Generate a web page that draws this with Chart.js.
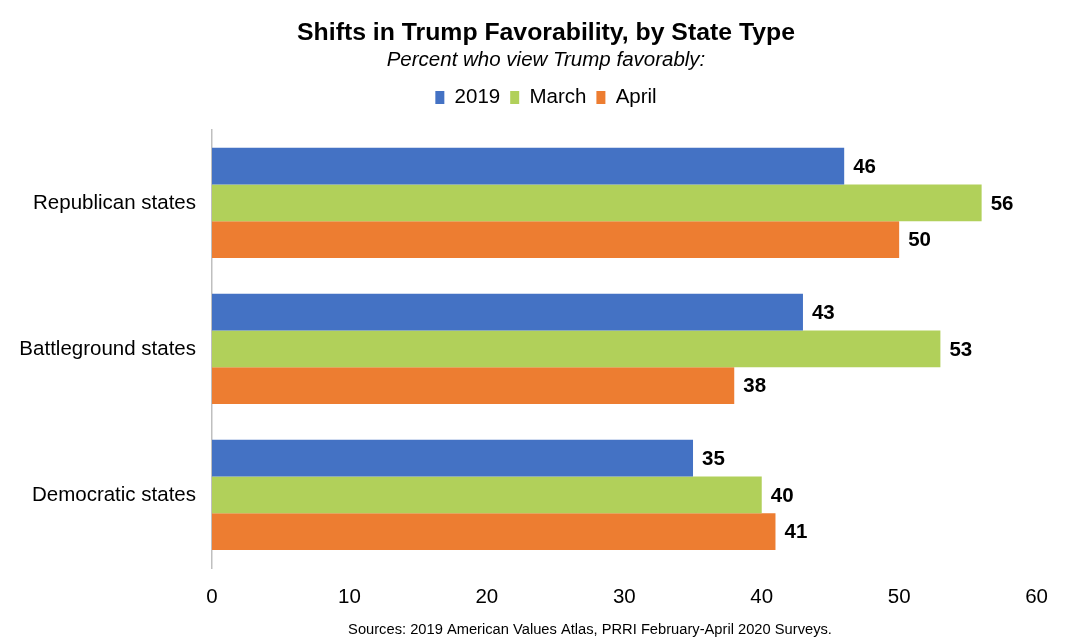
<!DOCTYPE html>
<html>
<head>
<meta charset="utf-8">
<script src="https://cdn.jsdelivr.net/npm/chart.js@4"></script>
<style>
  html, body { margin: 0; padding: 0; background: #fff; }
  #wrap { width: 1065px; height: 640px; position: relative; }
</style>
</head>
<body>
<div id="wrap"><canvas id="favChart" width="1065" height="640"></canvas></div>
<script>
// data
const stateTypes = ["Republican states", "Battleground states", "Democratic states"];
const fav2019 = [46, 43, 35];
const favMarch = [56, 53, 40];
const favApril = [50, 38, 41];
const xTicks = [0, 10, 20, 30, 40, 50, 60];
const sourceNote = "Sources: 2019 American Values Atlas, PRRI February-April 2020 Surveys.";

const FONT = "'Liberation Sans', Arial, Helvetica, sans-serif";

// push the plot down below the legend
const legendSpacer = {
  id: "legendSpacer",
  beforeInit(chart) {
    const origFit = chart.legend.fit;
    chart.legend.fit = function () {
      origFit.bind(chart.legend)();
      this.height += 12;
    };
  }
};

// header block (title, subtitle, legend) is centred a bit right of the canvas middle
const shiftHeader = {
  id: "shiftHeader",
  afterLayout(chart) {
    chart.boxes.forEach(b => {
      if (b.position === "top") b.left = 54;
    });
  }
};

// value labels at the end of each bar
const barValues = {
  id: "barValues",
  afterDatasetsDraw(chart) {
    const ctx = chart.ctx;
    ctx.save();
    ctx.font = "bold 20.5px " + FONT;
    ctx.fillStyle = "#000";
    ctx.textBaseline = "middle";
    ctx.textAlign = "left";
    chart.data.datasets.forEach((ds, i) => {
      chart.getDatasetMeta(i).data.forEach((bar, j) => {
        ctx.fillText(ds.data[j], bar.x + 9, bar.y + 1);
      });
    });
    ctx.restore();
  }
};

// source line under the axis
const sourceLine = {
  id: "sourceLine",
  afterDraw(chart) {
    const ctx = chart.ctx;
    ctx.save();
    ctx.font = "14.7px " + FONT;
    ctx.fillStyle = "#000";
    ctx.textAlign = "center";
    ctx.textBaseline = "middle";
    ctx.fillText(sourceNote, 590, 630);
    ctx.restore();
  }
};

const ctx = document.getElementById("favChart").getContext("2d");
new Chart(ctx, {
  type: "bar",
  data: {
    labels: stateTypes,
    datasets: [
      { label: "2019", data: fav2019, backgroundColor: "#4472C4" },
      { label: "March", data: favMarch, backgroundColor: "#B1D05A" },
      { label: "April", data: favApril, backgroundColor: "#ED7D31" }
    ]
  },
  options: {
    indexAxis: "y",
    responsive: false,
    animation: false,
    categoryPercentage: 0.755,
    barPercentage: 1,
    layout: { padding: { left: 0, right: 27, top: 0, bottom: 0 } },
    plugins: {
      title: {
        display: true,
        text: "Shifts in Trump Favorability, by State Type",
        color: "#000",
        font: { family: FONT, size: 24.8, weight: "bold" },
        padding: { top: 18, bottom: 0 }
      },
      subtitle: {
        display: true,
        text: "Percent who view Trump favorably:",
        color: "#000",
        font: { family: FONT, size: 20.5, style: "italic" },
        padding: { top: 0, bottom: 5 }
      },
      legend: {
        position: "top",
        labels: {
          color: "#000",
          font: { family: FONT, size: 20.5 },
          boxWidth: 9,
          boxHeight: 13,
          padding: 10
        }
      },
      tooltip: { enabled: false }
    },
    scales: {
      x: {
        min: 0,
        max: 60,
        afterBuildTicks(scale) {
          scale.ticks = xTicks.map(v => ({ value: v }));
        },
        afterFit(scale) { scale.height = 72; },
        grid: { display: false, drawTicks: false },
        border: { display: false },
        ticks: {
          color: "#000",
          font: { family: FONT, size: 20.5 },
          padding: 17
        }
      },
      y: {
        afterFit(scale) { scale.width = 212; },
        grid: { display: false, drawTicks: false },
        border: { display: true, color: "#BFBFBF", width: 1.5 },
        ticks: {
          color: "#000",
          font: { family: FONT, size: 20.5 },
          padding: 16
        }
      }
    }
  },
  plugins: [legendSpacer, shiftHeader, barValues, sourceLine]
});
</script>
</body>
</html>
